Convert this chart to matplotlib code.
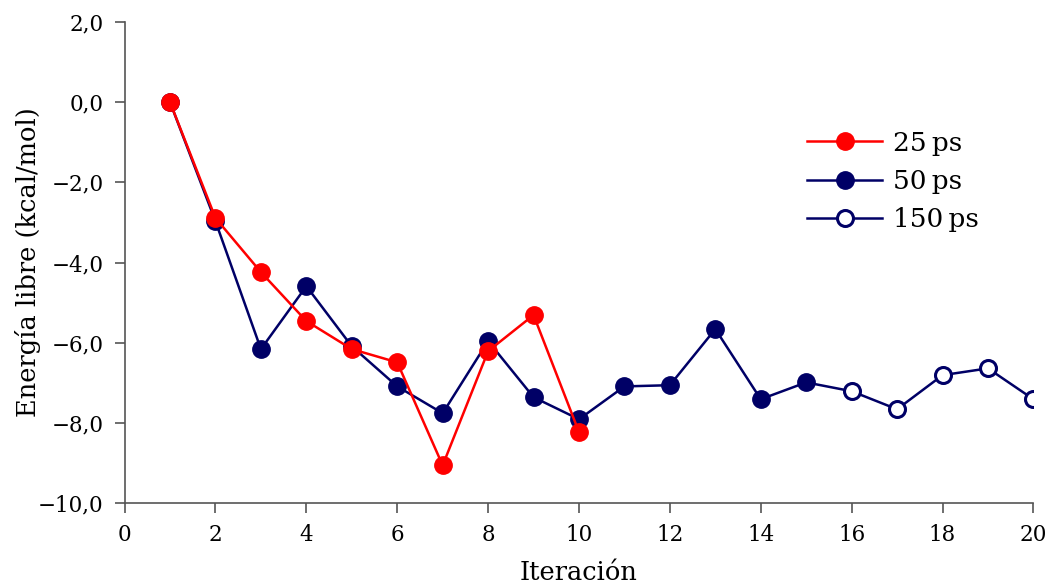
import matplotlib
matplotlib.use('Agg')
import matplotlib.pyplot as plt
from matplotlib.ticker import FuncFormatter, MultipleLocator

# Data
iter_25 = [1, 2, 3, 4, 5, 6, 7, 8, 9, 10]
energy_25 = [0.0, -2.89, -4.24, -5.46, -6.16, -6.49, -9.06, -6.21, -5.31, -8.23]

iter_50 = [1, 2, 3, 4, 5, 6, 7, 8, 9, 10, 11, 12, 13, 14, 15]
energy_50 = [0.0, -2.97, -6.16, -4.59, -6.09, -7.09, -7.76, -5.96, -7.36, -7.91,
             -7.09, -7.06, -5.66, -7.41, -6.99]

iter_150 = [16, 17, 18, 19, 20]
energy_150 = [-7.21, -7.66, -6.81, -6.64, -7.41]

red = '#ff0000'
navy = '#000066'

plt.rcParams['font.family'] = ['DejaVu Serif']
plt.rcParams['axes.unicode_minus'] = True

fig = plt.figure(figsize=(10.47, 5.87), dpi=100)
ax = fig.add_axes([0.119, 0.143, 0.868, 0.8195])

# 150 ps line continues from the last 50 ps point
ax.plot([iter_50[-1]] + iter_150, [energy_50[-1]] + energy_150, color=navy, lw=1.8,
        marker='o', ms=11.5, mfc='white', mec=navy, mew=2.2, markevery=list(range(1, 6)),
        label='150\u2009ps', zorder=2)
ax.plot(iter_50, energy_50, color=navy, lw=1.8, marker='o', ms=12.5,
        mfc=navy, mec=navy, label='50\u2009ps', zorder=3)
ax.plot(iter_25, energy_25, color=red, lw=1.8, marker='o', ms=12.5,
        mfc=red, mec=red, label='25\u2009ps', zorder=4)

ax.set_xlim(0, 20)
ax.set_ylim(-10, 2)
ax.xaxis.set_major_locator(MultipleLocator(2))
ax.yaxis.set_major_locator(MultipleLocator(2))


def comma_fmt(v, pos):
    s = '%.1f' % v
    return s.replace('.', ',').replace('-', '\u2212')


ax.yaxis.set_major_formatter(FuncFormatter(comma_fmt))
ax.xaxis.set_major_formatter(FuncFormatter(lambda v, pos: '%d' % v))

for side in ['top', 'right']:
    ax.spines[side].set_visible(False)
for side in ['left', 'bottom']:
    ax.spines[side].set_color('#555555')
    ax.spines[side].set_linewidth(1.2)
ax.tick_params(direction='out', length=7, width=1.2, color='#555555',
               labelsize=15.5, pad=8)

ax.set_xlabel('Iteración', fontsize=18.5, labelpad=10)
ax.set_ylabel('Energía libre (kcal/mol)', fontsize=18.5, labelpad=-2)

handles, labels = ax.get_legend_handles_labels()
order = [2, 1, 0]
ax.legend([handles[i] for i in order], [labels[i] for i in order],
          loc='upper left', bbox_to_anchor=(0.751, 0.774), frameon=False,
          fontsize=19, handlelength=2.85, handletextpad=0.4, labelspacing=0.5,
          borderpad=0, borderaxespad=0)

fig.savefig('out.png', dpi=100)
